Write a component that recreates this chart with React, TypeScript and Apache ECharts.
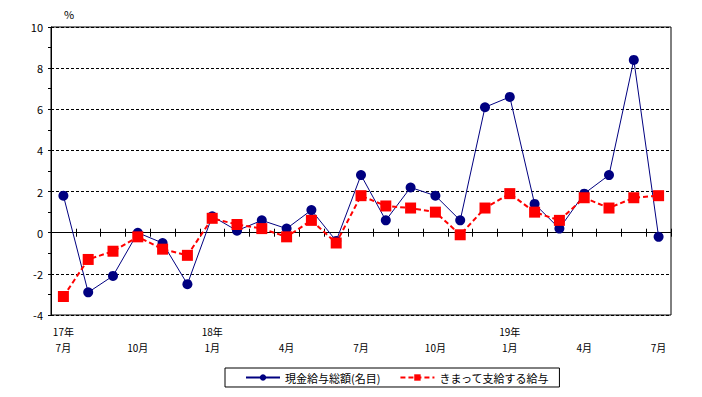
import React, { useEffect, useRef } from "react";
import * as echarts from "echarts";

const monthLabels = ["7月","8月","9月","10月","11月","12月","1月","2月","3月","4月","5月","6月","7月","8月","9月","10月","11月","12月","1月","2月","3月","4月","5月","6月","7月"];
const yearLabels: Record<number, string> = { 0: "17年", 6: "18年", 18: "19年" };
const totalCash = [1.8, -2.9, -2.1, 0.0, -0.5, -2.5, 0.8, 0.1, 0.6, 0.2, 1.1, -0.4, 2.8, 0.6, 2.2, 1.8, 0.6, 6.1, 6.6, 1.4, 0.2, 1.9, 2.8, 8.4, -0.2];
const regular = [-3.1, -1.3, -0.9, -0.2, -0.8, -1.1, 0.7, 0.4, 0.2, -0.2, 0.6, -0.5, 1.8, 1.3, 1.2, 1.0, -0.1, 1.2, 1.9, 1.0, 0.6, 1.7, 1.2, 1.7, 1.8];
const seriesNames = ["現金給与総額(名目)", "きまって支給する給与"];

const FONT = "'Noto Sans CJK JP', sans-serif";

export default function App() {
  const ref = useRef<HTMLDivElement>(null);
  useEffect(() => {
    if (!ref.current) return;
    const chart = echarts.init(ref.current, undefined, { renderer: "svg" });
    const tickAxisBase = {
      type: "category" as const,
      data: monthLabels,
      boundaryGap: true,
      axisLabel: { show: false },
      splitLine: { show: false },
    };
    const labelAxisBase = {
      type: "category" as const,
      data: monthLabels,
      boundaryGap: true,
      position: "bottom" as const,
      axisLine: { show: false, onZero: false },
      axisTick: { show: false },
      splitLine: { show: false },
    };
    chart.setOption({
      animation: false,
      textStyle: { fontFamily: FONT, color: "#000" },
      grid: { left: 51, right: 31, top: 27, bottom: 82, show: true, borderColor: "#000", borderWidth: 1, backgroundColor: "transparent" },
      graphic: [
        { type: "text", left: 64, top: 8, style: { text: "%", font: `11px ${FONT}`, fill: "#000" } },
      ],
      legend: {
        data: seriesNames,
        left: 225,
        top: 368,
        borderColor: "#000",
        borderWidth: 1,
        padding: [4, 10, 4, 20],
        itemWidth: 34,
        itemHeight: 8,
        itemGap: 19,
        textStyle: { fontSize: 11, color: "#000", fontFamily: FONT },
      },
      xAxis: [
        {
          ...labelAxisBase,
          axisLabel: {
            interval: 2,
            margin: 27,
            fontSize: 10,
            lineHeight: 11,
            color: "#000",
            fontFamily: FONT,
          },
        },
        {
          ...tickAxisBase,
          position: "bottom",
          axisLine: { show: true, onZero: true, onZeroAxisIndex: 0, lineStyle: { color: "#000", width: 1 } },
          axisTick: { show: true, inside: true, length: 4, interval: 0, lineStyle: { color: "#000" } },
        },
        {
          ...tickAxisBase,
          position: "top",
          axisLine: { show: true, onZero: true, onZeroAxisIndex: 1, lineStyle: { color: "#000", width: 1 } },
          axisTick: { show: true, inside: true, length: 4, interval: 0, lineStyle: { color: "#000" } },
        },
        {
          ...labelAxisBase,
          axisLabel: {
            interval: 0,
            margin: 11,
            fontSize: 10,
            lineHeight: 11,
            color: "#000",
            fontFamily: FONT,
            formatter: (_v: string, i: number) => yearLabels[i] ?? "",
          },
        },
      ],
      yAxis: [
        {
          type: "value",
          min: -4,
          max: 10,
          interval: 2,
          axisLine: { show: true, lineStyle: { color: "#000" } },
          axisTick: { show: true, length: 3, lineStyle: { color: "#000" } },
          minorTick: { show: true, splitNumber: 2, length: 3, lineStyle: { color: "#000" } },
          axisLabel: { fontSize: 11, color: "#000", margin: 8, fontFamily: FONT },
          splitLine: { show: true, lineStyle: { color: "#000", type: [3, 2], width: 1 } },
        },
        {
          type: "value",
          min: -4,
          max: 10,
          interval: 2,
          show: false,
          splitLine: { show: false },
        },
      ],
      series: [
        {
          name: seriesNames[0],
          type: "line",
          data: totalCash,
          xAxisIndex: 0,
          yAxisIndex: 0,
          symbol: "circle",
          symbolSize: 10,
          itemStyle: { color: "#000080" },
          lineStyle: { color: "#000080", width: 1 },
          z: 3,
        },
        {
          name: seriesNames[1],
          type: "line",
          data: regular,
          xAxisIndex: 0,
          yAxisIndex: 0,
          symbol: "rect",
          symbolSize: 11,
          itemStyle: { color: "#FF0000" },
          lineStyle: { color: "#FF0000", width: 2, type: [5, 3] },
          z: 4,
        },
      ],
    });
    return () => chart.dispose();
  }, []);
  return <div ref={ref} style={{ width: 702, height: 397, position: "absolute", left: 0, top: 0 }} />;
}
